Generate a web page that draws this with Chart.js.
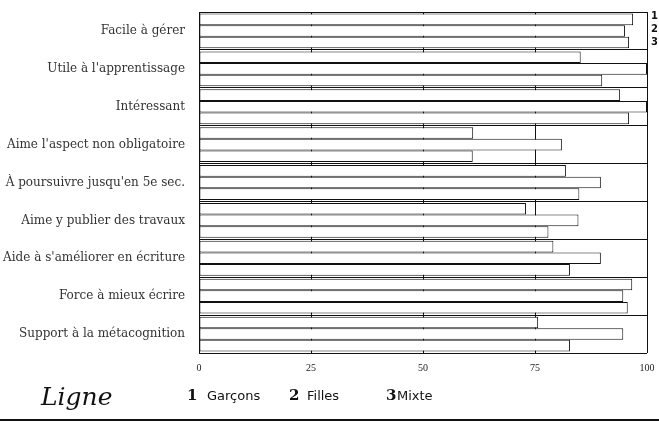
<!DOCTYPE html>
<html lang="fr">
<head>
  <meta charset="UTF-8" />
  <title>Appréciation du blogue</title>
  <script src="https://cdn.jsdelivr.net/npm/chart.js@4.4.1/dist/chart.umd.min.js"></script>
  <style>
    html, body {
      margin: 0;
      padding: 0;
      background: #ffffff;
    }
    #wrap {
      position: relative;
      width: 659px;
      height: 422px;
      overflow: hidden;
    }
    #chartCanvas {
      position: absolute;
      left: 0;
      top: 0;
    }
    .note {
      position: absolute;
      color: #111;
      white-space: nowrap;
    }
    .ligne {
      left: 41px;
      top: 382px;
      font-family: "DejaVu Serif", serif;
      font-style: italic;
      font-size: 25px;
    }
    .num {
      font-family: "DejaVu Serif", serif;
      font-weight: bold;
      font-size: 15px;
    }
    .lab {
      font-family: "DejaVu Sans", sans-serif;
      font-size: 13px;
    }
    .mark {
      font-family: "DejaVu Sans", sans-serif;
      font-weight: bold;
      font-size: 10px;
      left: 651px;
    }
    #bottomRule {
      position: absolute;
      left: 0;
      top: 419px;
      width: 659px;
      height: 2px;
      background: #111;
    }
  </style>
</head>
<body>
  <div id="wrap">
    <canvas id="chartCanvas" width="659" height="422"></canvas>

    <!-- handwritten legend under the axis -->
    <div class="note ligne">Ligne</div>
    <div class="note num" style="left:187px; top:386px;">1</div>
    <div class="note lab" style="left:207px; top:388px;">Garçons</div>
    <div class="note num" style="left:289px; top:386px;">2</div>
    <div class="note lab" style="left:307px; top:388px;">Filles</div>
    <div class="note num" style="left:386px; top:386px;">3</div>
    <div class="note lab" style="left:397px; top:388px;">Mixte</div>

    <!-- small marks next to the first group -->
    <div class="note mark" style="top:10px;">1</div>
    <div class="note mark" style="top:23px;">2</div>
    <div class="note mark" style="top:36px;">3</div>

    <div id="bottomRule"></div>
  </div>

  <script>
    // ------------
    // DATA
    // ------------
    const categories = [
      "Facile à gérer",
      "Utile à l'apprentissage",
      "Intéressant",
      "Aime l'aspect non obligatoire",
      "À poursuivre jusqu'en 5e sec.",
      "Aime y publier des travaux",
      "Aide à s'améliorer en écriture",
      "Force à mieux écrire",
      "Support à la métacognition",
    ];
    const seriesNames = ["Garçons", "Filles", "Mixte"];
    const garcons = [96.9, 85.2, 94.0, 61.2, 81.9, 73.0, 79.1, 96.7, 75.7];
    const filles  = [95.1, 100, 100, 81.0, 89.7, 84.7, 89.7, 94.7, 94.7];
    const mixte   = [96.0, 90.0, 96.0, 61.1, 84.9, 78.0, 82.8, 95.7, 82.8];
    const xTicks = [0, 25, 50, 75, 100];

    // -------------------------------
    // CHART
    // -------------------------------
    function makeDataset(label, values) {
      return {
        label: label,
        data: values,
        backgroundColor: "#ffffff",
        borderColor: "#111111",
        borderWidth: 1,
        borderSkipped: false,
        barPercentage: 1.0,
        categoryPercentage: 0.92,
      };
    }

    function initChart() {
      const ctx = document.getElementById("chartCanvas").getContext("2d");
      new Chart(ctx, {
        type: "bar",
        data: {
          labels: categories,
          datasets: [
            makeDataset(seriesNames[0], garcons),
            makeDataset(seriesNames[1], filles),
            makeDataset(seriesNames[2], mixte),
          ],
        },
        options: {
          indexAxis: "y",
          responsive: false,
          animation: false,
          layout: {
            padding: { left: 0, top: 12, right: 12, bottom: 0 },
          },
          plugins: {
            legend: { display: false },
            tooltip: { enabled: false },
          },
          scales: {
            x: {
              min: 0,
              max: 100,
              afterBuildTicks: (scale) => {
                scale.ticks = xTicks.map((v) => ({ value: v }));
              },
              afterFit: (scale) => {
                // fixed axis band, no extra side padding for the end labels
                scale.height = 69;
                scale.paddingLeft = 0;
                scale.paddingRight = 0;
              },
              border: { display: false },
              grid: {
                color: "#111111",
                lineWidth: 1,
                drawTicks: false,
              },
              ticks: {
                padding: 9,
                color: "#222222",
                font: { family: "Liberation Serif", size: 10 },
              },
            },
            y: {
              afterFit: (scale) => {
                scale.width = 199;
                scale.paddingTop = 0;
                scale.paddingBottom = 0;
              },
              border: { display: true, color: "#111111", width: 1 },
              grid: {
                color: "#111111",
                lineWidth: 1,
                drawTicks: false,
              },
              ticks: {
                padding: 14,
                color: "#333333",
                font: { family: "DejaVu Serif", size: 12 },
              },
            },
          },
        },
      });
    }

    initChart();
  </script>
</body>
</html>
